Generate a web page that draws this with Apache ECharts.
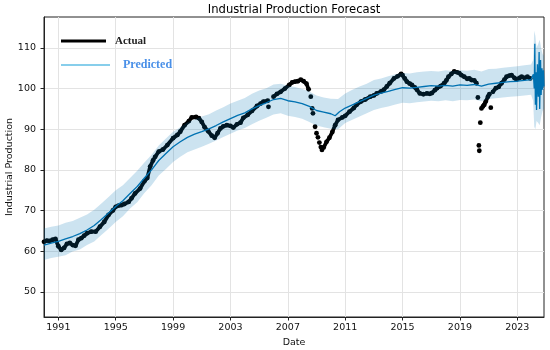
<!DOCTYPE html>
<html>
<head>
<meta charset="utf-8">
<script src="https://cdn.jsdelivr.net/npm/echarts@6/dist/echarts.min.js"></script>
<style>html,body{margin:0;padding:0;background:#fff}#c{width:550px;height:350px}</style>
</head>
<body>
<div id="c"></div>
<script>
// ---- data (decimal years) ----
const xTicks = [1991, 1995, 1999, 2003, 2007, 2011, 2015, 2019, 2023];
const yTicks = [50, 60, 70, 80, 90, 100, 110];

const actualYears = [
  1990.0,1990.2,1990.4,1990.6,1990.8,1991.0,1991.2,1991.4,1991.6,1991.8,
  1992.0,1992.2,1992.4,1992.6,1992.8,1993.0,1993.3,1993.6,1993.9,1994.2,
  1994.5,1994.8,1995.0,1995.2,1995.4,1995.6,1995.9,1996.1,1996.35,1996.7,
  1997.0,1997.2,1997.4,1997.6,1997.75,1998.0,1998.3,1998.6,1999.0,1999.3,
  1999.5,1999.8,2000.1,2000.3,2000.6,2000.8,2001.0,2001.2,2001.45,2001.7,
  2001.9,2002.1,2002.3,2002.5,2002.75,2003.0,2003.2,2003.45,2003.7,2003.9,
  2004.2,2004.5,2004.85,2005.1,2005.3,2005.6,2005.65,2006.0,2006.25,2006.5,
  2006.8,2007.1,2007.3,2007.5,2007.7,2007.9,2008.1,2008.3,2008.45,2008.6,
  2008.7,2008.75,2008.9,2009.0,2009.1,2009.2,2009.3,2009.38,2009.5,2009.7,
  2009.9,2010.1,2010.3,2010.5,2010.8,2011.0,2011.3,2011.6,2011.8,2012.1,
  2012.4,2012.75,2013.0,2013.2,2013.5,2013.7,2013.9,2014.1,2014.4,2014.65,
  2014.9,2015.0,2015.15,2015.3,2015.5,2015.65,2015.85,2016.0,2016.2,2016.45,
  2016.7,2016.9,2017.05,2017.25,2017.4,2017.65,2017.9,2018.05,2018.2,2018.4,
  2018.6,2018.8,2018.95,2019.1,2019.3,2019.5,2019.65,2019.8,2020.0,2020.15,
  2020.25,2020.32,2020.35,2020.42,2020.5,2020.6,2020.7,2020.8,2020.95,2021.05,
  2021.15,2021.3,2021.5,2021.7,2021.9,2022.1,2022.25,2022.45,2022.6,2022.8,
  2022.95,2023.15,2023.3,2023.5,2023.7,2023.9
];
const actualValues = [
  62.3,62.6,62.5,62.8,63.0,61.2,60.3,60.8,61.8,62.0,
  61.5,61.3,62.8,63.2,63.8,64.4,64.8,64.8,66.0,67.2,
  68.9,70.0,70.9,71.2,71.3,71.6,72.1,73.0,74.2,75.4,
  77.2,78.0,80.8,82.3,83.2,84.5,85.0,86.1,87.8,88.6,
  89.4,91.0,92.0,92.9,93.0,92.7,91.8,90.5,89.5,88.4,
  87.9,89.0,90.2,90.7,91.0,90.8,90.4,91.2,91.6,92.8,
  93.5,94.5,95.7,96.3,96.8,97.0,95.5,98.0,98.7,99.2,
  100.0,100.9,101.5,101.7,101.8,102.2,101.8,101.2,99.8,98.0,
  95.1,93.9,90.6,89.0,88.0,86.7,85.6,84.9,85.5,86.9,
  87.9,89.3,91.0,92.3,92.9,93.3,94.3,95.2,96.0,96.8,
  97.3,98.0,98.3,98.8,99.3,99.7,100.5,101.3,102.5,103.0,
  103.6,103.3,102.5,101.7,101.2,100.9,100.3,99.7,98.8,98.6,
  98.8,98.7,98.9,99.6,100.1,100.6,101.3,102.0,102.9,103.6,
  104.2,104.0,103.8,103.3,102.9,102.4,102.5,102.1,102.0,101.3,
  97.8,86.0,84.7,91.6,95.1,95.6,96.0,96.8,98.0,98.6,
  95.3,99.2,100.1,100.4,101.3,102.2,102.9,103.2,103.3,102.6,
  102.2,102.6,102.9,102.6,102.9,102.5
];
// months that stand apart from the continuous trace (drawn as lone dots)
const actualIsolated = [2005.65, 2008.6, 2008.7, 2008.75, 2008.9, 2009.0, 2009.1, 2009.2, 2009.3, 2009.38,
  2020.25, 2020.32, 2020.35, 2020.42, 2020.5, 2021.15];

const predYears = [
  1990.0,1990.5,1991.0,1991.5,1992.0,1992.5,1993.0,1993.5,1994.0,1994.5,
  1995.0,1995.5,1996.0,1996.5,1997.0,1997.5,1998.0,1998.5,1999.0,1999.5,
  2000.0,2000.5,2001.0,2001.5,2002.0,2002.5,2003.0,2003.5,2004.0,2004.5,
  2005.0,2005.5,2006.0,2006.5,2007.0,2007.5,2008.0,2008.5,2009.0,2009.5,
  2010.0,2010.3,2010.6,2011.0,2011.5,2012.0,2012.5,2013.0,2013.5,2014.0,
  2014.5,2015.0,2015.5,2016.0,2016.5,2017.0,2017.5,2018.0,2018.5,2019.0,
  2019.5,2020.0,2020.5,2021.0,2021.5,2022.0,2022.5,2023.0,2023.5,2023.96,
  2024.04,2024.12,2024.18,2024.22,2024.26,2024.30,2024.34,2024.40,2024.46,2024.52,
  2024.56,2024.62,2024.66,2024.72,2024.76,2024.82,2024.86
];
const predValues = [
  61.5,62.0,62.4,63.0,63.6,64.3,65.2,66.3,67.8,69.4,
  71.0,72.4,74.2,75.9,78.0,80.0,82.3,84.0,85.7,86.9,
  88.0,88.8,89.4,90.1,90.9,91.8,92.6,93.4,94.0,95.0,
  95.8,96.5,97.3,97.6,97.0,96.7,96.3,95.6,94.6,94.2,
  93.8,93.3,94.3,95.2,96.0,96.8,97.6,98.4,98.9,99.3,
  99.8,100.2,100.1,100.3,100.5,100.7,100.6,100.8,100.6,100.9,
  100.8,101.0,100.6,101.1,101.3,101.5,101.7,101.8,102.0,102.2,
  102.5,103.5,100.0,111.0,96.0,104.0,94.7,106.0,98.0,109.0,
  95.0,107.0,98.4,105.0,99.7,104.5,100.5
];

const bandYears = [
  1990.0,1990.5,1991.0,1991.5,1992.0,1992.5,1993.0,1993.5,1994.0,1994.5,
  1995.0,1995.5,1996.0,1996.5,1997.0,1997.5,1998.0,1998.5,1999.0,1999.5,
  2000.0,2000.5,2001.0,2001.5,2002.0,2002.5,2003.0,2003.5,2004.0,2004.5,
  2005.0,2005.5,2006.0,2006.5,2007.0,2007.5,2008.0,2008.5,2009.0,2009.5,
  2010.0,2010.5,2011.0,2011.5,2012.0,2012.5,2013.0,2013.5,2014.0,2014.5,
  2015.0,2015.5,2016.0,2016.5,2017.0,2017.5,2018.0,2018.5,2019.0,2019.5,
  2020.0,2020.5,2021.0,2021.5,2022.0,2022.5,2023.0,2023.5,2023.96,
  2024.1,2024.18,2024.26,2024.34,2024.46,2024.56,2024.66,2024.76,2024.86
];
const bandUpper = [
  65.6,66.0,66.3,67.0,67.4,68.2,69.0,70.2,71.7,73.3,
  75.0,76.2,78.0,79.8,81.8,83.7,86.0,87.7,89.4,90.5,
  91.7,92.4,93.1,93.7,94.6,95.4,96.3,97.0,97.7,98.7,
  99.5,100.1,101.0,101.2,100.7,100.4,99.9,99.3,98.3,97.8,
  97.5,97.4,98.8,99.7,100.5,101.2,102.1,102.5,103.0,103.5,
  103.8,103.7,104.0,104.2,104.3,104.2,104.5,104.3,104.5,104.4,
  104.6,104.2,104.8,104.9,105.1,105.3,105.5,105.7,105.9,
  107.0,114.2,113.0,110.0,111.0,112.0,110.0,108.5,108.0
];
const bandLower = [
  57.8,58.3,58.6,59.0,59.9,60.4,61.5,62.4,64.0,65.5,
  67.2,68.6,70.5,72.0,74.3,76.2,78.6,80.2,81.9,83.2,
  84.3,85.0,85.7,86.4,87.2,88.1,88.9,89.7,90.3,91.2,
  92.1,92.8,93.6,93.9,93.3,93.0,92.6,91.8,90.9,90.5,
  90.1,90.0,91.5,92.3,93.1,93.9,94.7,95.2,95.6,96.1,
  96.5,96.4,96.6,96.8,97.0,96.9,97.1,96.9,97.2,97.1,
  97.3,96.9,97.4,97.6,97.8,98.0,98.1,98.3,98.5,
  97.0,90.6,90.0,92.0,91.5,91.0,93.0,94.5,95.0
];

// ---- build options ----
const actualAll = actualYears.map((x, i) => [x, actualValues[i]]);
const actualTrace = actualYears.map((x, i) => [x, actualIsolated.indexOf(x) >= 0 ? '-' : actualValues[i]]);
const predData = predYears.map((x, i) => [x, predValues[i]]);
const bandData = bandYears.map((x, i) => [x, bandLower[i], bandUpper[i]]);

const chart = echarts.init(document.getElementById('c'), null, {renderer: 'canvas'});
const tickFont = {fontFamily: 'DejaVu Sans', fontSize: 9.5, color: '#111'};

chart.setOption({
  animation: false,
  backgroundColor: '#fff',
  title: {
    text: 'Industrial Production Forecast',
    left: 289, top: -1, textAlign: 'center',
    textStyle: {fontFamily: 'DejaVu Sans', fontSize: 11.6, fontWeight: 'normal', color: '#000'}
  },
  legend: [
    {
      data: [{name: 'Actual', icon: 'rect', itemStyle: {color: '#000'}}],
      left: 61, top: 35.5, padding: 0,
      itemWidth: 45, itemHeight: 3,
      textStyle: {fontFamily: 'Liberation Serif', fontWeight: 'bold', fontSize: 11, color: '#222', padding: [0, 0, 0, 4]},
      selectedMode: false
    },
    {
      data: [{name: 'Predicted', icon: 'rect', itemStyle: {color: '#87ceeb'}}],
      left: 61, top: 59, padding: 0,
      itemWidth: 49, itemHeight: 2,
      textStyle: {fontFamily: 'Liberation Serif', fontWeight: 'bold', fontSize: 12, color: '#4a90e8', padding: [0, 0, 0, 8]},
      selectedMode: false
    }
  ],
  grid: {
    left: 44, right: 6, top: 17, bottom: 33,
    containLabel: false, outerBoundsMode: 'none',
    show: true, borderColor: '#222', borderWidth: 1, backgroundColor: 'transparent'
  },
  xAxis: {
    type: 'value', min: 1990.0, max: 2024.86,
    name: 'Date', nameLocation: 'middle', nameGap: 21, nameMoveOverlap: false,
    nameTextStyle: {fontFamily: 'DejaVu Sans', fontSize: 9.5, color: '#111'},
    axisLine: {show: true, lineStyle: {color: '#222', width: 1}},
    axisTick: {show: true, customValues: xTicks, length: 3.5, lineStyle: {color: '#222'}},
    axisLabel: Object.assign({customValues: xTicks, margin: 6, formatter: v => String(v)}, tickFont),
    splitLine: {show: true, lineStyle: {color: '#e3e3e3', width: 1}}
  },
  yAxis: {
    type: 'value', min: 43.8, max: 117.6,
    name: 'Industrial Production', nameLocation: 'middle', nameGap: 29, nameMoveOverlap: false,
    nameTextStyle: {fontFamily: 'DejaVu Sans', fontSize: 9.5, color: '#111'},
    axisLine: {show: true, lineStyle: {color: '#222', width: 1}},
    axisTick: {show: true, customValues: yTicks, length: 3.5, lineStyle: {color: '#222'}},
    axisLabel: Object.assign({customValues: yTicks, margin: 8, formatter: v => String(v)}, tickFont),
    splitLine: {show: true, lineStyle: {color: '#e3e3e3', width: 1}}
  },
  series: [
    {
      name: 'Actual', type: 'line', data: actualTrace, showSymbol: false,
      connectNulls: false, lineStyle: {color: '#000', width: 3.8}, itemStyle: {color: '#000'}, z: 2
    },
    {
      name: 'Actual', type: 'scatter', data: actualAll, symbol: 'circle', symbolSize: 4.8,
      itemStyle: {color: '#000', opacity: 1}, z: 2
    },
    {
      name: 'Predicted', type: 'line', data: predData, showSymbol: false,
      lineStyle: {color: '#0072B2', width: 1.3}, itemStyle: {color: '#0072B2'}, z: 3
    },
    {
      name: 'band', type: 'custom', data: bandData, z: 4, silent: true,
      encode: {x: 0, y: [1, 2]},
      renderItem: function (params, api) {
        if (params.dataIndex !== 0) return null;
        const pts = [];
        for (let i = 0; i < bandData.length; i++) pts.push(api.coord([bandData[i][0], bandData[i][2]]));
        for (let i = bandData.length - 1; i >= 0; i--) pts.push(api.coord([bandData[i][0], bandData[i][1]]));
        return {type: 'polygon', shape: {points: pts}, style: {fill: 'rgba(0,114,178,0.2)', stroke: null}};
      }
    }
  ]
});
</script>
</body>
</html>
